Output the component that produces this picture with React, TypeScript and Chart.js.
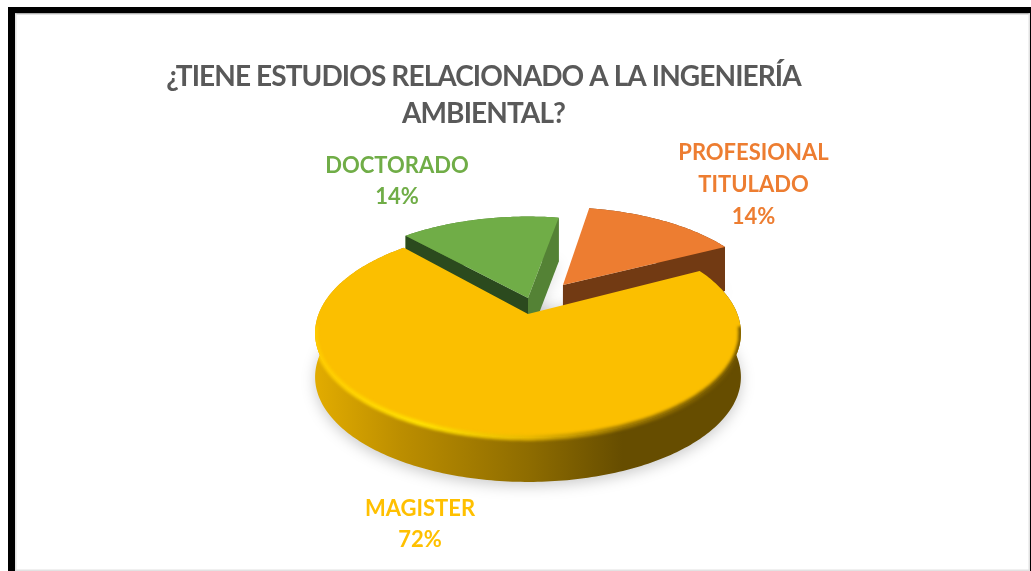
import React, { useEffect, useRef } from "react";
import { Chart, registerables } from "chart.js";

Chart.register(...registerables);

// ---- data ----
const categories = ["MAGISTER", "DOCTORADO", "PROFESIONAL TITULADO"];
const shares = [72, 14, 14];
const titleLines = ["¿TIENE ESTUDIOS RELACIONADO A LA INGENIERÍA", "AMBIENTAL?"];

// ---- style ----
const topColors = ["#FBBF00", "#70AD47", "#ED7D31"];
const labelColors = ["#FFC000", "#70AD47", "#ED7D31"];
const startFaceColors = ["#8a6a00", "#2B4A1E", "#9c5220"];
const endFaceColors = ["#8a6a00", "#548235", "#723A13"];
const explodeX = [0, 0, 0.176];
const explodeY = [0, 0.162, 0.30];
// small angle corrections for the 3-D view, in degrees
const startTrim = [2, -2.6, 0.4];
const endTrim = [-2, 0, 2.6];
const labelCenterX = [420, 397, 753.5];
const labelFirstLineY = [509, 165.5, 152.5];
const labelLineGap = [31, 31, 32];
const FONT = "Lato, 'Open Sans', sans-serif";

const CX = 528, CY = 314, A = 209.4, B = 101.5, K = 0.181, DEPTH = 44;
const DEG = Math.PI / 180;

const project = (X: number, Y: number) => {
  const w = 1 + K * Y;
  return { x: CX + (A * X) / w, y: CY - (B * Y) / w };
};

const arcPts = (a0: number, a1: number, ox: number, oy: number) => {
  const n = Math.max(8, Math.ceil(Math.abs(a1 - a0) * 60));
  const pts: { x: number; y: number }[] = [];
  for (let i = 0; i <= n; i++) {
    const a = a0 + ((a1 - a0) * i) / n;
    pts.push(project(ox + Math.cos(a), oy - Math.sin(a)));
  }
  return pts;
};

const quad = (c: CanvasRenderingContext2D, p: any, q: any, fill: any) => {
  c.beginPath();
  c.moveTo(p.x, p.y);
  c.lineTo(q.x, q.y);
  c.lineTo(q.x, q.y + DEPTH);
  c.lineTo(p.x, p.y + DEPTH);
  c.closePath();
  c.fillStyle = fill;
  c.fill();
};

const framePlugin = {
  id: "frame",
  beforeDraw(chart: any) {
    const c: CanvasRenderingContext2D = chart.ctx;
    const { width: W, height: H } = chart;
    c.save();
    c.fillStyle = "#fff";
    c.fillRect(0, 0, W, H);
    c.fillStyle = "#000";
    c.fillRect(8, 7, W - 8, 6.5);
    c.fillRect(8, 7, 7, H - 7);
    c.fillRect(1030, 7, 1, H - 7);
    c.fillStyle = "#e2e2e2";
    c.fillRect(15, 13.5, W - 16, 1.5);
    c.fillRect(15, 13.5, 1.5, H - 13);
    c.fillRect(1028.5, 13.5, 1.5, H - 13);
    c.fillRect(15, 569.5, W - 16, 1.5);
    c.restore();
    (c as any).letterSpacing = "-0.9px";
  },
};

const pie3dPlugin = {
  id: "pie3d",
  beforeDatasetsDraw(chart: any) {
    const c: CanvasRenderingContext2D = chart.ctx;
    const arcs = chart.getDatasetMeta(0).data;
    (c as any).letterSpacing = "0px";
    c.save();

    const rims = arcs.map((el: any, i: number) =>
      arcPts(el.startAngle + startTrim[i] * DEG, el.endAngle + endTrim[i] * DEG, explodeX[i], explodeY[i])
    );

    // soft shadows first, below everything
    c.save();
    (c as any).filter = "blur(7px)";
    c.fillStyle = "rgba(0,0,0,0.2)";
    c.beginPath();
    rims[0].forEach((p: any, j: number) => (j ? c.lineTo(p.x, p.y + DEPTH + 4) : c.moveTo(p.x, p.y + DEPTH + 4)));
    c.closePath();
    c.fill();
    [1, 2].forEach((i) => {
      const a = project(explodeX[i], explodeY[i]);
      c.fillStyle = "rgba(0,0,0,0.12)";
      c.beginPath();
      c.moveTo(a.x, a.y + DEPTH + 2);
      rims[i].forEach((p: any) => c.lineTo(p.x, p.y + DEPTH + 2));
      c.closePath();
      c.fill();
    });
    c.restore();

    for (const i of [1, 2, 0]) {
      const rim = rims[i];
      const apex = project(explodeX[i], explodeY[i]);
      const first = rim[0], last = rim[rim.length - 1];

      const traceWall = () => {
        c.beginPath();
        rim.forEach((p: any, j: number) => (j ? c.lineTo(p.x, p.y) : c.moveTo(p.x, p.y)));
        for (let j = rim.length - 1; j >= 0; j--) c.lineTo(rim[j].x, rim[j].y + DEPTH);
        c.closePath();
      };

      if (i === 0) {
        const wall = c.createLinearGradient(315, 0, 742, 0);
        wall.addColorStop(0, "#E2AC00");
        wall.addColorStop(0.2, "#BC8E00");
        wall.addColorStop(0.5, "#8E6C00");
        wall.addColorStop(0.72, "#664D00");
        wall.addColorStop(1, "#664D00");
        traceWall();
        c.fillStyle = wall;
        c.fill();
      } else {
        traceWall();
        c.fillStyle = endFaceColors[i];
        c.fill();
        if (apex.x > first.x) quad(c, apex, first, startFaceColors[i]);
        if (last.x > apex.x) quad(c, last, apex, endFaceColors[i]);
      }

      c.beginPath();
      c.moveTo(apex.x, apex.y);
      rim.forEach((p: any) => c.lineTo(p.x, p.y));
      c.closePath();
      c.fillStyle = topColors[i];
      c.fill();

      if (i === 0) {
        // rounded lip along the rim, kept inside the slice's own outline
        const bevel = c.createLinearGradient(315, 0, 742, 0);
        bevel.addColorStop(0, "#FFCB00");
        bevel.addColorStop(0.25, "#FFE000");
        bevel.addColorStop(0.5, "#E8B800");
        bevel.addColorStop(0.72, "#9C7700");
        bevel.addColorStop(1, "#6E5300");
        c.save();
        const clip = new Path2D();
        clip.moveTo(apex.x, apex.y);
        rim.forEach((p: any) => clip.lineTo(p.x, p.y));
        clip.closePath();
        rim.forEach((p: any, j: number) =>
          j ? clip.lineTo(p.x, p.y) : clip.moveTo(p.x, p.y)
        );
        for (let j = rim.length - 1; j >= 0; j--) clip.lineTo(rim[j].x, rim[j].y + DEPTH);
        clip.closePath();
        c.clip(clip, "nonzero");
        (c as any).filter = "blur(1.6px)";
        c.strokeStyle = bevel;
        c.lineWidth = 5;
        c.beginPath();
        let started = false;
        rim.forEach((p: any) => {
          if (p.y < 325) { started = false; return; }
          if (started) c.lineTo(p.x, p.y);
          else { c.moveTo(p.x, p.y); started = true; }
        });
        c.stroke();
        c.restore();
      }
    }
    c.restore();
    return false;
  },
  afterDraw(chart: any) {
    const c: CanvasRenderingContext2D = chart.ctx;
    c.save();
    c.textAlign = "center";
    c.textBaseline = "middle";
    c.font = `bold 22px ${FONT}`;
    categories.forEach((name, i) => {
      const lines = [...(name.includes(" ") ? name.split(" ") : [name]), `${shares[i]}%`];
      c.fillStyle = labelColors[i];
      lines.forEach((t, j) => c.fillText(t, labelCenterX[i], labelFirstLineY[i] + j * labelLineGap[i]));
    });
    c.restore();
  },
};

export default function App() {
  const ref = useRef<HTMLCanvasElement>(null);
  useEffect(() => {
    const chart = new Chart(ref.current!, {
      type: "pie",
      data: {
        labels: categories,
        datasets: [{ data: shares, backgroundColor: topColors, borderWidth: 0 }],
      },
      options: {
        animation: false,
        responsive: false,
        devicePixelRatio: 1,
        rotation: 60.6,
        layout: { padding: { left: 0, right: 64, top: 0, bottom: 0 } },
        events: [],
        plugins: {
          legend: { display: false },
          tooltip: { enabled: false },
          title: {
            display: true,
            text: titleLines,
            color: "#595959",
            font: { family: FONT, size: 28, weight: "bold", lineHeight: 1.33 },
            padding: { top: 58, bottom: 0 },
          },
        },
      },
      plugins: [framePlugin, pie3dPlugin],
    } as any);
    return () => chart.destroy();
  }, []);
  return (
    <div style={{ position: "fixed", left: 0, top: 0, width: 1031, height: 571 }}>
      <canvas ref={ref} width={1031} height={571} style={{ display: "block", filter: "blur(0.5px)" }} />
    </div>
  );
}
